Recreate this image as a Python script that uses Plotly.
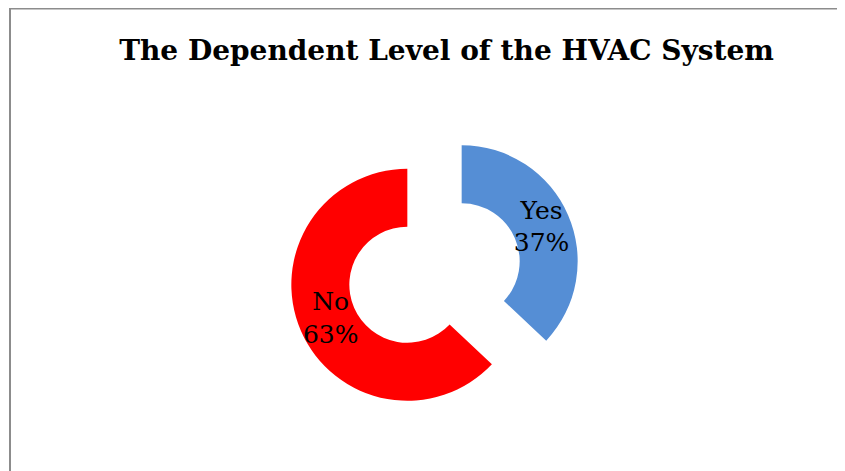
import plotly.graph_objects as go

labels = ["Yes", "No"]
values = [37, 63]
colors = ["#558ED5", "#FF0000"]
title_text = "The Dependent Level of the HVAC System"

# page body has an 8px margin, so the figure is sized to fit the window
W, H = 837, 463
cx, cy = 426.5, 265.0          # pie centre (px, from top-left of the figure)
R = 116.0                      # outer radius of the ring
pull_px = 29.6                 # explosion distance
R_txt = 167.0                  # radius of the invisible label pie


def domain(radius, pull):
    half = radius * (1 + pull)
    return dict(x=[(cx - half) / W, (cx + half) / W],
                y=[(H - cy - half) / H, (H - cy + half) / H])


pull_ring = pull_px / R
pull_txt = pull_px / R_txt

ring = go.Pie(
    labels=labels,
    values=values,
    marker=dict(colors=colors, line=dict(width=0)),
    hole=0.5,
    pull=[pull_ring] * len(values),
    sort=False,
    direction="clockwise",
    rotation=0,
    textinfo="none",
    showlegend=False,
    hoverinfo="label+percent",
    domain=domain(R, pull_ring),
)

# transparent full pie, used only to place the slice labels
label_pie = go.Pie(
    labels=labels,
    values=values,
    marker=dict(colors=["rgba(0,0,0,0)"] * len(values), line=dict(width=0)),
    hole=0,
    pull=[pull_txt] * len(values),
    sort=False,
    direction="clockwise",
    rotation=0,
    texttemplate="%{label}<br>%{percent:.0%}",
    textposition="inside",
    insidetextorientation="horizontal",
    textfont=dict(family="DejaVu Serif", size=25, color="#000000"),
    showlegend=False,
    hoverinfo="skip",
    domain=domain(R_txt, pull_txt),
)

fig = go.Figure([ring, label_pie])

fig.update_layout(
    width=W, height=H,
    margin=dict(l=0, r=0, t=0, b=0),
    paper_bgcolor="white",
    title=dict(text="<b>" + title_text + "</b>",
               x=438.5 / W, xanchor="center",
               y=1 - 42 / H, yanchor="middle",
               font=dict(family="DejaVu Serif", size=28, color="#000000")),
    shapes=[
        dict(type="line", xref="paper", yref="paper",
             x0=1 / W, x1=1, y0=1 - 0.5 / H, y1=1 - 0.5 / H,
             line=dict(color="#8C8C8C", width=2)),
        dict(type="line", xref="paper", yref="paper",
             x0=2 / W, x1=2 / W, y0=0, y1=1,
             line=dict(color="#8C8C8C", width=2)),
    ],
)

fig.write_html("out.html")
